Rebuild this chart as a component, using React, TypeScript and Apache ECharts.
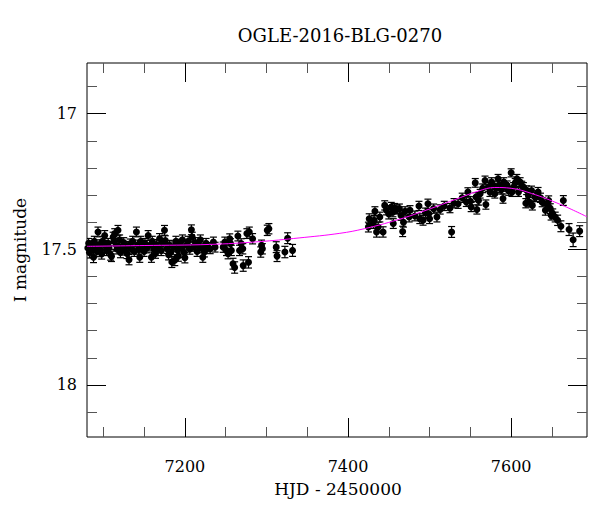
import React, { useEffect, useRef } from "react";
import * as echarts from "echarts";

// [HJD - 2450000, I mag, error]
const season2015: number[][] = [
  [7081, 17.495, 0.018], [7082, 17.478, 0.018], [7083, 17.512, 0.02], [7085, 17.486, 0.017],
  [7086, 17.503, 0.018], [7088, 17.529, 0.02], [7089, 17.47, 0.018], [7090, 17.492, 0.017],
  [7092, 17.508, 0.019], [7093.5, 17.436, 0.018], [7095, 17.482, 0.017], [7096, 17.5, 0.018],
  [7098, 17.517, 0.019], [7099, 17.47, 0.018], [7101.7, 17.449, 0.018], [7103, 17.488, 0.017],
  [7104, 17.505, 0.018], [7106, 17.478, 0.018], [7107, 17.495, 0.017], [7109, 17.52, 0.02],
  [7110, 17.526, 0.019], [7112, 17.455, 0.018], [7113, 17.47, 0.017], [7114, 17.442, 0.018],
  [7116, 17.485, 0.018], [7117, 17.5, 0.017], [7118, 17.43, 0.018], [7120, 17.465, 0.018],
  [7121, 17.512, 0.019], [7123, 17.49, 0.017], [7125, 17.475, 0.018], [7126, 17.503, 0.018],
  [7128, 17.488, 0.017], [7129, 17.515, 0.019], [7131.5, 17.538, 0.019], [7133, 17.48, 0.018],
  [7134, 17.497, 0.017], [7136, 17.47, 0.018], [7138, 17.508, 0.018], [7140.6, 17.436, 0.018],
  [7142, 17.483, 0.017], [7143, 17.5, 0.018], [7144.7, 17.529, 0.019], [7146, 17.47, 0.018],
  [7148, 17.492, 0.017], [7150, 17.508, 0.018], [7151, 17.478, 0.018], [7153, 17.496, 0.017],
  [7155, 17.449, 0.018], [7157, 17.485, 0.018], [7159, 17.529, 0.019], [7160, 17.47, 0.018],
  [7162, 17.5, 0.017], [7164, 17.515, 0.018], [7165, 17.482, 0.018], [7167, 17.493, 0.017],
  [7169, 17.46, 0.018], [7171, 17.505, 0.018], [7173, 17.478, 0.017], [7175, 17.43, 0.018],
  [7176, 17.468, 0.018], [7178, 17.498, 0.017], [7180, 17.52, 0.019], [7181, 17.485, 0.018],
  [7183, 17.51, 0.018], [7184, 17.547, 0.02], [7186, 17.49, 0.017], [7187.6, 17.54, 0.02],
  [7189, 17.47, 0.018], [7191, 17.503, 0.018], [7192, 17.525, 0.019], [7194, 17.48, 0.017],
  [7196, 17.495, 0.018], [7197, 17.465, 0.018], [7199, 17.512, 0.018], [7200, 17.531, 0.019],
  [7202, 17.485, 0.017], [7204, 17.47, 0.018], [7206, 17.5, 0.018], [7208, 17.428, 0.018],
  [7209, 17.455, 0.018], [7211, 17.49, 0.017], [7213, 17.475, 0.018], [7215, 17.508, 0.018],
  [7217, 17.487, 0.017], [7219, 17.465, 0.018], [7221, 17.495, 0.018], [7222, 17.529, 0.019],
  [7224, 17.51, 0.018], [7226, 17.478, 0.018], [7228, 17.492, 0.017],
  [7231, 17.498, 0.018], [7235, 17.473, 0.018], [7237, 17.492, 0.018], [7247, 17.492, 0.019],
  [7249, 17.473, 0.018], [7251, 17.504, 0.019], [7253, 17.516, 0.019], [7255, 17.461, 0.018],
  [7256, 17.479, 0.018], [7257, 17.504, 0.019], [7259, 17.553, 0.02], [7261, 17.567, 0.021],
  [7265, 17.451, 0.018], [7267, 17.504, 0.019], [7269, 17.479, 0.018], [7271, 17.498, 0.019],
  [7271.5, 17.56, 0.021], [7276, 17.442, 0.018], [7278, 17.548, 0.021], [7279, 17.436, 0.018],
  [7283, 17.461, 0.019], [7293, 17.51, 0.019], [7294, 17.485, 0.019], [7295, 17.498, 0.019],
  [7301, 17.43, 0.019], [7303, 17.424, 0.019], [7312, 17.492, 0.02], [7313, 17.525, 0.02],
  [7322.6, 17.51, 0.021], [7326, 17.459, 0.02], [7332, 17.504, 0.022],
];

const season2016: number[][] = [
  [7425, 17.418, 0.018], [7426, 17.387, 0.018], [7431, 17.405, 0.018], [7432, 17.393, 0.018],
  [7433, 17.36, 0.017], [7435, 17.436, 0.019], [7437, 17.418, 0.018], [7439, 17.381, 0.018],
  [7443, 17.436, 0.019], [7445, 17.338, 0.017], [7447, 17.356, 0.017], [7450, 17.37, 0.018],
  [7453, 17.344, 0.017], [7455, 17.363, 0.017], [7455.5, 17.405, 0.018], [7457, 17.348, 0.017],
  [7460, 17.353, 0.017], [7463, 17.35, 0.017], [7465, 17.375, 0.018], [7467, 17.434, 0.019],
  [7468, 17.4, 0.018], [7470, 17.36, 0.017], [7476, 17.356, 0.017], [7475, 17.381, 0.018],
  [7482, 17.377, 0.018], [7487, 17.34, 0.017], [7488, 17.387, 0.018], [7492, 17.393, 0.018],
  [7495, 17.365, 0.017], [7498, 17.332, 0.017], [7499, 17.369, 0.017], [7500, 17.387, 0.018],
  [7505, 17.35, 0.017], [7509, 17.381, 0.018], [7513, 17.353, 0.017], [7518, 17.34, 0.017],
  [7525, 17.348, 0.017], [7527, 17.436, 0.02], [7530, 17.33, 0.017], [7535, 17.332, 0.017],
  [7540, 17.31, 0.017], [7545, 17.325, 0.017], [7547, 17.289, 0.016], [7550, 17.323, 0.017],
  [7551, 17.344, 0.017], [7556, 17.255, 0.016], [7557, 17.307, 0.016], [7558, 17.353, 0.017],
  [7560, 17.32, 0.017], [7562, 17.295, 0.016], [7565, 17.275, 0.016], [7568, 17.246, 0.016],
  [7569, 17.335, 0.017], [7572, 17.27, 0.016], [7574, 17.289, 0.016], [7576, 17.252, 0.016],
  [7578, 17.265, 0.016], [7580, 17.295, 0.016], [7582, 17.275, 0.016], [7584, 17.24, 0.016],
  [7586, 17.262, 0.016], [7588, 17.28, 0.016], [7590, 17.313, 0.017], [7591, 17.252, 0.016],
  [7593, 17.27, 0.016], [7595, 17.264, 0.016], [7597, 17.285, 0.016], [7600, 17.218, 0.015],
  [7601, 17.289, 0.016], [7603, 17.27, 0.016], [7605, 17.255, 0.016], [7607, 17.24, 0.016],
  [7609, 17.289, 0.016], [7611, 17.252, 0.016], [7613, 17.265, 0.016], [7615, 17.27, 0.016],
  [7618, 17.33, 0.017], [7619, 17.282, 0.016], [7621, 17.301, 0.017], [7622, 17.326, 0.017],
  [7625, 17.283, 0.016], [7626, 17.338, 0.017], [7629, 17.307, 0.017], [7631, 17.307, 0.017],
  [7633, 17.289, 0.017], [7636, 17.31, 0.017], [7638, 17.326, 0.017], [7642, 17.356, 0.018],
  [7644, 17.332, 0.017], [7646, 17.32, 0.017], [7648, 17.35, 0.018], [7649, 17.374, 0.018],
  [7651, 17.369, 0.018], [7654, 17.381, 0.018], [7657, 17.393, 0.019], [7661, 17.415, 0.02],
  [7664, 17.32, 0.018], [7671, 17.427, 0.022], [7676, 17.465, 0.025], [7684, 17.433, 0.02],
];

// model light curve
const modelHjd = [7080, 7150, 7230, 7290, 7340, 7390, 7420, 7460, 7490, 7530, 7560, 7580, 7600, 7625, 7660, 7693];
const modelMag = [17.489, 17.486, 17.482, 17.472, 17.458, 17.441, 17.424, 17.392, 17.362, 17.318, 17.285, 17.272, 17.275, 17.294, 17.334, 17.38];

const xMajorTicks = [7200, 7400, 7600];
const xMinorTicks = [7100, 7150, 7250, 7300, 7350, 7450, 7500, 7550, 7650];
const yMajorTicks = [17, 17.5, 18];
const yMinorTicks = [16.9, 17.1, 17.2, 17.3, 17.4, 17.6, 17.7, 17.8, 17.9, 18.1];

const X_MIN = 7080;
const X_MAX = 7693;
const Y_MIN = 16.813;
const Y_MAX = 18.192;

const FONT = "DejaVu Serif";

export default function App() {
  const ref = useRef<HTMLDivElement>(null);
  useEffect(() => {
    if (!ref.current) return;
    const chart = echarts.init(ref.current, undefined, { renderer: "svg" });
    const points = [...season2015, ...season2016];
    const model = modelHjd.map((h, i) => [h, modelMag[i]]);

    const xAxisBase = (position: string, ticks: number[], len: number, labels: boolean, color: string) => ({
      type: "value",
      min: X_MIN,
      max: X_MAX,
      position,
      axisLine: { show: false },
      splitLine: { show: false },
      axisTick: { show: true, inside: true, length: len, customValues: ticks, lineStyle: { color, width: 1 } },
      axisLabel: labels
        ? {
            show: true,
            customValues: ticks,
            margin: 21,
            color: "#000",
            fontFamily: FONT,
            fontSize: 16,
            formatter: (v: number) => String(v),
          }
        : { show: false, customValues: ticks },
    });
    const yAxisBase = (position: string, ticks: number[], len: number, labels: boolean, color: string) => ({
      type: "value",
      min: Y_MIN,
      max: Y_MAX,
      inverse: true,
      position,
      axisLine: { show: false },
      splitLine: { show: false },
      axisTick: { show: true, inside: true, length: len, customValues: ticks, lineStyle: { color, width: 1 } },
      axisLabel: labels
        ? {
            show: true,
            customValues: ticks,
            margin: 10,
            color: "#000",
            fontFamily: FONT,
            fontSize: 16,
            formatter: (v: number) => String(v),
          }
        : { show: false, customValues: ticks },
    });

    chart.setOption({
      animation: false,
      backgroundColor: "#fff",
      grid: { left: 87, right: 13, top: 63, bottom: 75, show: true, borderColor: "#000", borderWidth: 1, backgroundColor: "transparent" },
      xAxis: [
        xAxisBase("bottom", xMajorTicks, 19, true, "#000"),
        xAxisBase("bottom", xMinorTicks, 10, false, "#555"),
        xAxisBase("top", xMajorTicks, 19, false, "#000"),
        xAxisBase("top", xMinorTicks, 10, false, "#555"),
      ],
      yAxis: [
        yAxisBase("left", yMajorTicks, 19, true, "#000"),
        yAxisBase("left", yMinorTicks, 10, false, "#555"),
        yAxisBase("right", yMajorTicks, 19, false, "#000"),
        yAxisBase("right", yMinorTicks, 10, false, "#555"),
      ],
      graphic: [
        { type: "text", x: 340, y: 35, style: { text: "OGLE-2016-BLG-0270", font: `18px '${FONT}'`, fill: "#000", textAlign: "center", textVerticalAlign: "middle" } },
        { type: "text", x: 338, y: 489, style: { text: "HJD - 2450000", font: `17px '${FONT}'`, fill: "#000", textAlign: "center", textVerticalAlign: "middle" } },
        { type: "text", x: 20, y: 250, rotation: Math.PI / 2, style: { text: "I magnitude", font: `17px '${FONT}'`, fill: "#000", textAlign: "center", textVerticalAlign: "middle" } },
      ],
      series: [
        {
          type: "custom",
          xAxisIndex: 0,
          yAxisIndex: 0,
          clip: true,
          data: points,
          encode: { x: 0, y: 1 },
          renderItem: (params: any, api: any) => {
            const x = api.value(0);
            const y = api.value(1);
            const e = api.value(2);
            const a = api.coord([x, y - e]);
            const b = api.coord([x, y + e]);
            const hw = 3.5;
            const st = { stroke: "#000", lineWidth: 1.2 };
            return {
              type: "group",
              children: [
                { type: "line", shape: { x1: a[0], y1: a[1], x2: b[0], y2: b[1] }, style: st },
                { type: "line", shape: { x1: a[0] - hw, y1: a[1], x2: a[0] + hw, y2: a[1] }, style: st },
                { type: "line", shape: { x1: b[0] - hw, y1: b[1], x2: b[0] + hw, y2: b[1] }, style: st },
              ],
            };
          },
          z: 2,
        },
        {
          type: "scatter",
          xAxisIndex: 0,
          yAxisIndex: 0,
          clip: true,
          data: points.map((p) => [p[0], p[1]]),
          symbol: "circle",
          symbolSize: 7,
          itemStyle: { color: "#000", opacity: 1 },
          z: 3,
        },
        {
          type: "line",
          xAxisIndex: 0,
          yAxisIndex: 0,
          data: model,
          smooth: 0.4,
          showSymbol: false,
          lineStyle: { color: "#ff00ff", width: 1 },
          z: 4,
        },
      ],
    });
    return () => chart.dispose();
  }, []);
  return (
    <div
      ref={ref}
      style={{ position: "fixed", left: 0, top: 0, width: 600, height: 512, background: "#fff" }}
    />
  );
}
